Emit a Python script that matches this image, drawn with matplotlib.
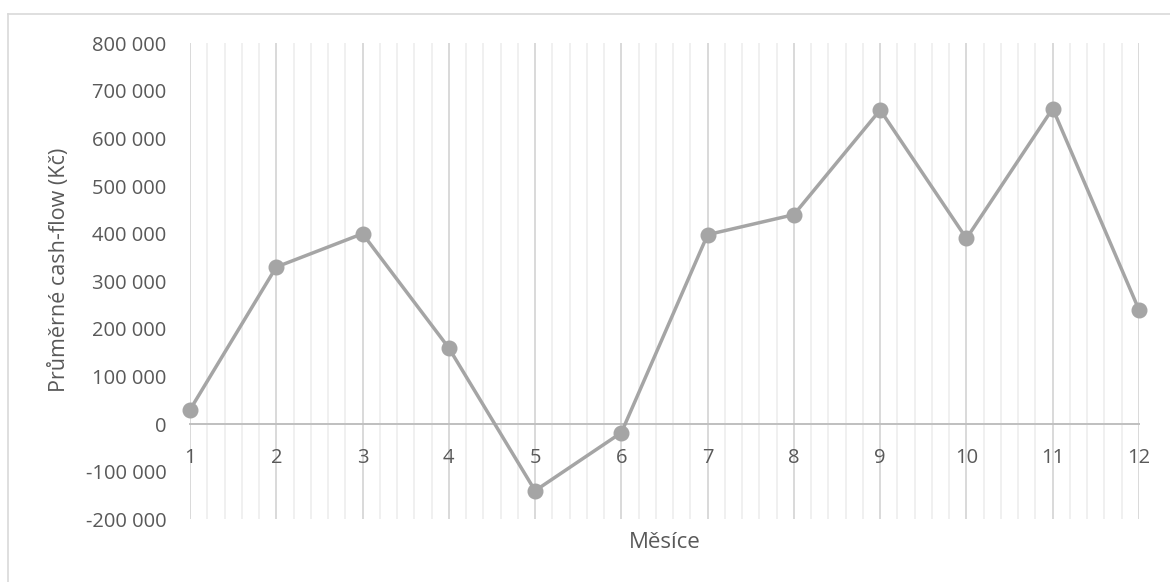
#!/usr/bin/env python3

import numpy as np
import matplotlib
matplotlib.use('Agg')
import matplotlib.pyplot as plt
from matplotlib.ticker import FuncFormatter, MultipleLocator
from matplotlib.lines import Line2D

# monthly average cash-flow (CZK)
months = [1, 2, 3, 4, 5, 6, 7, 8, 9, 10, 11, 12]
cashFlow = [30000, 330000, 400000, 160000, -140000, -18000, 398000, 440000, 660000, 390000, 663000, 240000]
yTicks = [-200000, -100000, 0, 100000, 200000, 300000, 400000, 500000, 600000, 700000, 800000]

xLabel = 'Měsíce'
yLabel = 'Průměrné cash-flow (Kč)'

lineColor = '#a5a5a5'
textColor = '#595959'

def spaceThousands(v, pos) :
	return '{:,.0f}'.format(v).replace(',', ' ')

def main() :
	plt.rcParams['font.family'] = ['Open Sans', 'DejaVu Sans']

	fig = plt.figure(figsize=(11.70, 5.82), dpi=100)
	ax = fig.add_axes([190/1170, 1-519.3/582, (1139-190)/1170, 476/582])

	ax.set_xlim(months[0], months[-1])
	ax.set_ylim(yTicks[0], yTicks[-1])

	# vertical gridlines only: majors on each month, 4 minors in between
	ax.xaxis.set_major_locator(MultipleLocator(1))
	ax.xaxis.set_minor_locator(MultipleLocator(0.2))
	ax.grid(which='major', axis='x', color='#d9d9d9', lw=1.4)
	ax.grid(which='minor', axis='x', color='#f0f0f0', lw=1.4)
	ax.set_axisbelow(True)

	ax.set_yticks(yTicks)
	ax.yaxis.set_major_formatter(FuncFormatter(spaceThousands))
	ax.set_xticks(months)
	ax.set_xticklabels([str(m) for m in months])

	for s in ['top', 'right', 'left'] :
		ax.spines[s].set_visible(False)
	# category axis sits on zero, labels follow it
	ax.spines['bottom'].set_position(('data', 0))
	ax.spines['bottom'].set_color('#bfbfbf')
	ax.spines['bottom'].set_linewidth(1.4)
	ax.spines['bottom'].set_zorder(1.5)

	ax.tick_params(axis='x', which='both', length=0, pad=17, labelsize=14.5, labelcolor=textColor)
	ax.tick_params(axis='y', which='both', length=0, pad=17, labelsize=14.5, labelcolor=textColor)

	ax.plot(months, cashFlow, color=lineColor, lw=2.5, marker='o', ms=10.5, mfc=lineColor, mec=lineColor, clip_on=False, zorder=3)

	fig.text(60/1170, 1-270/582, yLabel, rotation=90, ha='center', va='center', fontsize=15.5, color=textColor)
	fig.text(665/1170, 1-542/582, xLabel, ha='center', va='center', fontsize=16, color=textColor)

	# chart area frame, cut by the image edges
	fig.add_artist(Line2D([8/1170, 8/1170], [0, 1-14/582], color='#d9d9d9', lw=1.2, transform=fig.transFigure))
	fig.add_artist(Line2D([8/1170, 1], [1-14/582, 1-14/582], color='#d9d9d9', lw=1.2, transform=fig.transFigure))

	fig.savefig('out.png', dpi=100)

if __name__ == '__main__' :
	main()
